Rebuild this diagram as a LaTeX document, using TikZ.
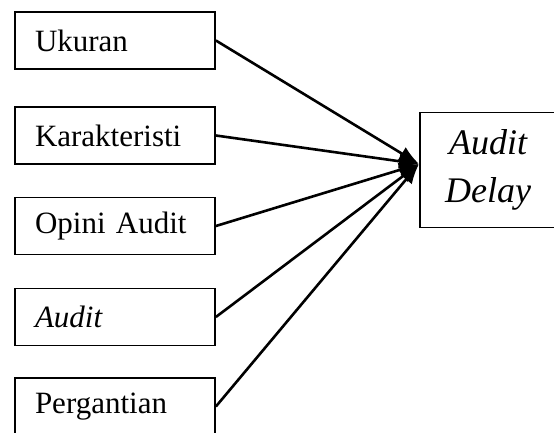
\documentclass[tikz,border=0pt]{standalone}
\usepackage{fontspec}
\setmainfont{Liberation Serif}
\usetikzlibrary{arrows.meta}
\tikzset{
	varbox/.style   = {draw, line width=1.8pt, rectangle, minimum height = 57pt,
		text width = 160pt, inner xsep = 20pt, inner ysep = 0pt, align = left,
		font = \fontsize{31}{37}\selectfont},
	depbox/.style   = {draw, line width=1.8pt, rectangle, minimum height = 115pt,
		minimum width = 136pt, align = center,
		font = \fontsize{36}{48}\selectfont\itshape},
	input/.style    = {coordinate} % arrow tip point
}

\begin{document}
\begin{tikzpicture}[x=1pt, y=-1pt, line width=2.6pt, >={Latex[length=20pt,width=15pt]}]
\useasboundingbox (0,0) rectangle (554,432);
\draw
% independent variables
node at (115,40.5)[varbox] (v1) {Ukuran}
node at (115,135.5)[varbox] (v2) {Karakteristi}
node at (115,226)[varbox] (v3) {Opini Audit}
node at (115,317)[varbox] (v4) {\textit{Audit}}
node at (115,406.5)[varbox] (v5) {Pergantian}
% dependent variable
node at (488,170)[depbox] (dv) {Audit\\Delay}
node at (419,164)[input] (tip) {};

\draw[->](v1.east) -- (tip);
\draw[->](v2.east) -- (tip);
\draw[->](v3.east) -- (tip);
\draw[->](v4.east) -- (tip);
\draw[->](v5.east) -- (tip);
\end{tikzpicture}
\end{document}
